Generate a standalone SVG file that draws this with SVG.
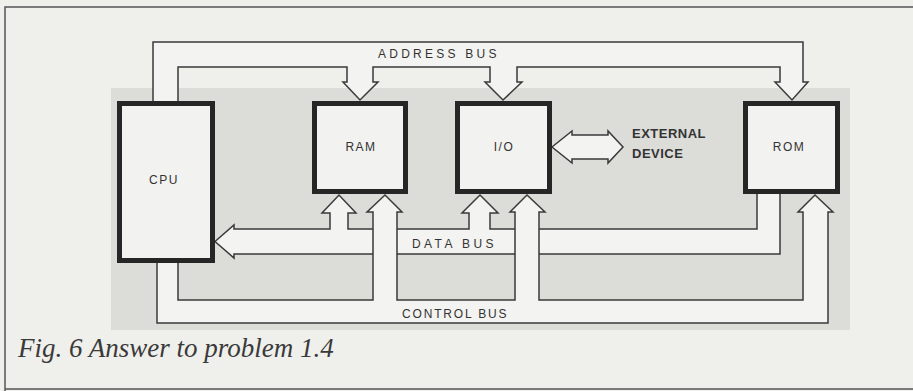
<svg xmlns="http://www.w3.org/2000/svg" width="913" height="391" viewBox="0 0 913 391">
<style>
.bus{fill:#f3f3f1;stroke:#3a3a3a;stroke-width:1.5;stroke-linejoin:miter}
.box{fill:#f2f2f0;stroke:#262626;stroke-width:5}
.lbl{font-family:"Liberation Sans",Arial,sans-serif;font-size:12px;fill:#333;letter-spacing:1.5px}
.ext{font-family:"Liberation Sans",Arial,sans-serif;font-size:13px;font-weight:bold;fill:#333;letter-spacing:0.5px}
.cap{font-family:"Liberation Serif","Times New Roman",serif;font-style:italic;font-size:27px;fill:#3a3a3a}
.frame{stroke:#555;stroke-width:1.5;fill:none}
</style>
<rect x="0" y="0" width="913" height="391" fill="#efefec"/>
<g id="frame">
<polyline class="frame" points="913,7 5,7 5,391"/>
<line class="frame" x1="5" y1="389" x2="913" y2="389"/>
</g>
<rect id="shade" x="111" y="88" width="739" height="242" fill="#dcdcd9"/>
<g id="connectors">
<polygon id="address-bus" class="bus" points="153,104 153,42 803,42 803,82 808,82 792,100 775,82 780,82 780,67 517,67 517,82 522,82 503,100 485,82 490,82 490,67 373,67 373,82 378,82 360,100 343,82 347,82 347,67 178,67 178,104"/>
<polygon id="data-bus" class="bus" points="215,241.5 234,225 234,229 330,229 330,213 322,213 339,195 356,213 348,213 348,229 469,229 469,213 462,213 480,195 498,213 490,213 490,229 757,229 757,192 780,192 780,254 234,254 234,258"/>
<polygon id="control-bus" class="bus" points="157,260 178,260 178,300 373,300 373,212 367,212 385,195 402,212 397,212 397,300 515,300 515,212 510,212 527,195 545,212 539,212 539,300 803,300 803,212 798,212 815,195 833,212 828,212 828,323 157,323"/>
<polygon id="external-link" class="bus" points="552,147 572,131 572,135 608,135 608,131 623,147 608,163 608,159 572,159 572,163"/>
</g>
<g id="cpu"><rect class="box" x="119.5" y="103.5" width="93" height="157"/><text class="lbl" x="164" y="184" text-anchor="middle">CPU</text></g>
<g id="ram"><rect class="box" x="314.5" y="103.5" width="91" height="88"/><text class="lbl" x="361" y="151" text-anchor="middle">RAM</text></g>
<g id="io"><rect class="box" x="457.5" y="103.5" width="92" height="88"/><text class="lbl" x="504" y="151" text-anchor="middle">I/O</text></g>
<g id="rom"><rect class="box" x="745.5" y="103.5" width="92" height="88"/><text class="lbl" x="789" y="151" text-anchor="middle">ROM</text></g>
<g id="external-device"><text class="ext" x="632" y="138">EXTERNAL</text><text class="ext" x="632" y="158">DEVICE</text></g>
<g id="bus-labels">
<text class="lbl" x="378" y="58" textLength="120" lengthAdjust="spacing">ADDRESS  BUS</text>
<text class="lbl" x="412" y="248" textLength="83" lengthAdjust="spacing">DATA  BUS</text>
<text class="lbl" x="402" y="318" textLength="106" lengthAdjust="spacing">CONTROL BUS</text>
</g>
<text class="cap" x="18" y="357">Fig. 6 Answer to problem 1.4</text>
</svg>
